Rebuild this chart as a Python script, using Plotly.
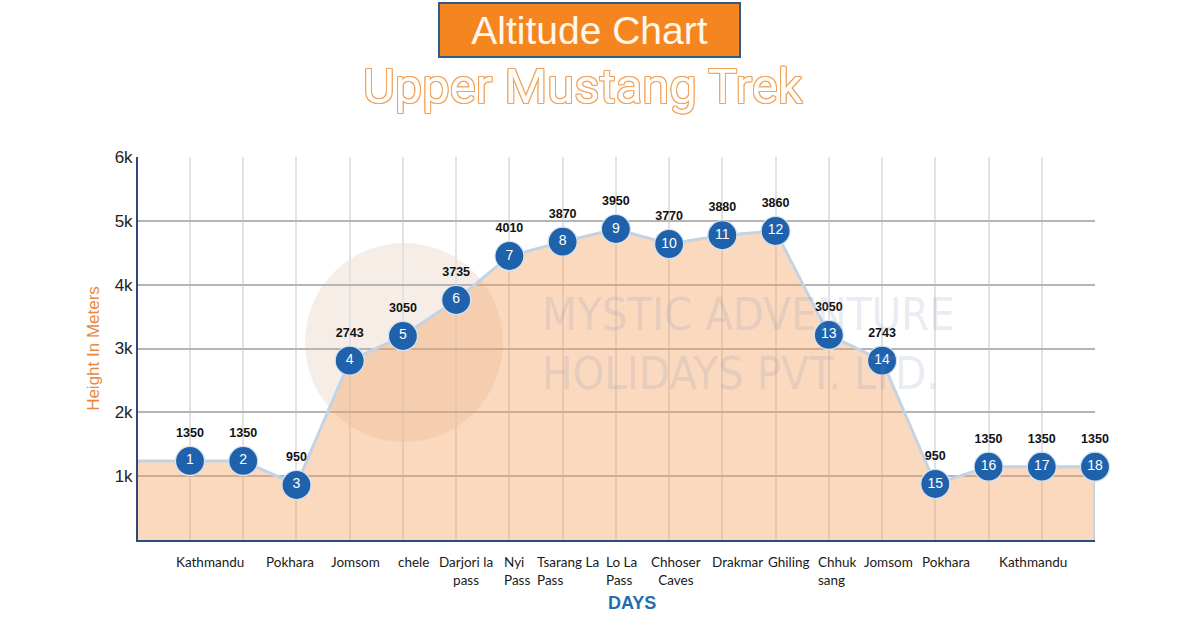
import plotly.graph_objects as go

# ---------------- data ----------------
day_numbers = [str(i) for i in range(1, 19)]
altitude_labels = [1350, 1350, 950, 2743, 3050, 3735, 4010, 3870, 3950,
                   3770, 3880, 3860, 3050, 2743, 950, 1350, 1350, 1350]
# heights as drawn in the picture (markers are not placed at the labelled values)
plot_heights = [1238, 1238, 862, 2809, 3196, 3760, 4449, 4673, 4872,
                4637, 4774, 4841, 3212, 2809, 877, 1148, 1148, 1148]
place_names = ["Kathmandu", "Pokhara", "Jomsom", "chele", "Darjori la<br>pass",
               "Nyi<br>Pass", "Tsarang La<br>Pass", "Lo La<br>Pass", "Chhoser<br>Caves",
               "Drakmar", "Ghiling", "Chhuk<br>sang", "Jomsom", "Pokhara", "Kathmandu"]
place_pos = [0.38, 1.88, 3.10, 4.19, 5.18, 5.86, 6.48, 7.78, 9.13,
             10.29, 11.25, 11.76, 13.13, 14.20, 15.84]
place_anchor = ["center", "center", "center", "center", "center", "left", "left", "left",
                "center", "center", "center", "left", "center", "center", "center"]
y_tickvals = [1000, 2000, 3000, 4000, 5000, 6000]
y_ticktext = ["1k", "2k", "3k", "4k", "5k", "6k"]

x_idx = list(range(len(plot_heights)))
x_min, x_max = -0.977, 17.0

# ---------------- figure ----------------
fig = go.Figure()

# area
fig.add_trace(go.Scatter(
    x=[x_min] + x_idx + [x_idx[-1]],
    y=[plot_heights[0]] + plot_heights + [0],
    mode="lines", fill="tozeroy",
    fillcolor="rgba(245,160,92,0.40)",
    line=dict(color="#c3d3e3", width=3),
    hoverinfo="skip", showlegend=False,
))

# altitude labels above markers
fig.add_trace(go.Scatter(
    x=x_idx, y=plot_heights, mode="markers+text",
    marker=dict(size=32, color="rgba(0,0,0,0)"),
    text=[f"<b>{v}</b>" for v in altitude_labels],
    textposition="top center",
    textfont=dict(family="Liberation Sans, Arial", size=12.5, color="#111111"),
    cliponaxis=False, showlegend=False, hoverinfo="skip",
))

# day markers
fig.add_trace(go.Scatter(
    x=x_idx, y=plot_heights, mode="markers+text",
    marker=dict(size=29, color="#1f62ab", line=dict(color="#d6e2ef", width=1.2)),
    text=day_numbers, textposition="middle center",
    textfont=dict(family="Liberation Sans, Arial", size=14, color="white"),
    cliponaxis=False, showlegend=False,
))

annotations = []
for name, pos, anc in zip(place_names, place_pos, place_anchor):
    annotations.append(dict(
        x=pos, y=0, xref="x", yref="paper", yanchor="top", xanchor=anc,
        yshift=-12, text=name, showarrow=False, align=anc,
        font=dict(family="Lato, Open Sans", size=13.5, color="#1a1a1a"),
    ))

W, PL, PR, PT, PB = 1200, 138, 1095, 157, 540
def px(xp):
    return (xp - PL) / (PR - PL)
def py(yp):
    return (PB - yp) / (PB - PT)

# DAYS
annotations.append(dict(x=px(632), y=py(603), xref="paper", yref="paper",
                        xanchor="center", yanchor="middle",
                        text="<b>DAYS</b>", showarrow=False,
                        font=dict(family="Liberation Sans, Arial", size=18, color="#1f6db3")))
# Title box
annotations.append(dict(x=px(589.5), y=py(30), xref="paper", yref="paper",
                        xanchor="center", yanchor="middle",
                        text="Altitude Chart", showarrow=False,
                        width=299, height=52, borderpad=0, borderwidth=2,
                        bordercolor="#2f5a8a", bgcolor="#f5861f",
                        font=dict(family="Liberation Sans, Arial", size=39, color="#fff7ee")))
# subtitle (outlined)
oc = "#f1a35c"
annotations.append(dict(x=px(583), y=py(87), xref="paper", yref="paper",
                        xanchor="center", yanchor="middle",
                        text="Upper Mustang Trek", showarrow=False,
                        font=dict(family="Roboto", size=49, color="white",
                                  shadow=f"1px 0 0 {oc}, -1px 0 0 {oc}, 0 1px 0 {oc}, 0 -1px 0 {oc}, 1px 1px 0 {oc}, -1px -1px 0 {oc}, 1px -1px 0 {oc}, -1px 1px 0 {oc}")))
# watermark text
annotations.append(dict(x=px(540), y=py(344), xref="paper", yref="paper",
                        xanchor="left", yanchor="middle", align="left",
                        text="MYSTIC ADVENTURE<br>HOLIDAYS PVT. LTD.", showarrow=False,
                        font=dict(family="Liberation Sans Narrow, DejaVu Sans Condensed, Liberation Sans",
                                  size=45, color="rgba(120,140,180,0.18)")))

fig.add_shape(type="circle", xref="paper", yref="paper",
              x0=px(305), x1=px(503), y0=py(442), y1=py(243),
              fillcolor="rgba(200,140,100,0.16)", line=dict(width=0), layer="below")

fig.update_layout(
    width=1200, height=618,
    margin=dict(l=PL, r=W - PR, t=PT, b=618 - PB),
    paper_bgcolor="white", plot_bgcolor="white",
    showlegend=False,
    annotations=annotations,
    xaxis=dict(range=[x_min, x_max], tick0=0, dtick=1, showticklabels=False,
               showgrid=True, gridcolor="#e2e2e2", gridwidth=2,
               zeroline=False, showline=True, linecolor="#2c4a7a", linewidth=2,
               mirror=False, fixedrange=True),
    yaxis=dict(range=[0, 6000], tickvals=y_tickvals, ticktext=y_ticktext,
               showgrid=True, gridcolor="#b5b5b5", gridwidth=2,
               zeroline=False, showline=True, linecolor="#2c4a7a", linewidth=2,
               tickfont=dict(family="Liberation Sans, Arial", size=17, color="#222222"),
               title=dict(text="Height In Meters", standoff=11,
                          font=dict(family="Liberation Sans, Arial", size=17, color="#e9893f")),
               fixedrange=True),
)

fig.write_html("out.html", config={"displayModeBar": False},
               post_script="document.body.style.margin='0';")
